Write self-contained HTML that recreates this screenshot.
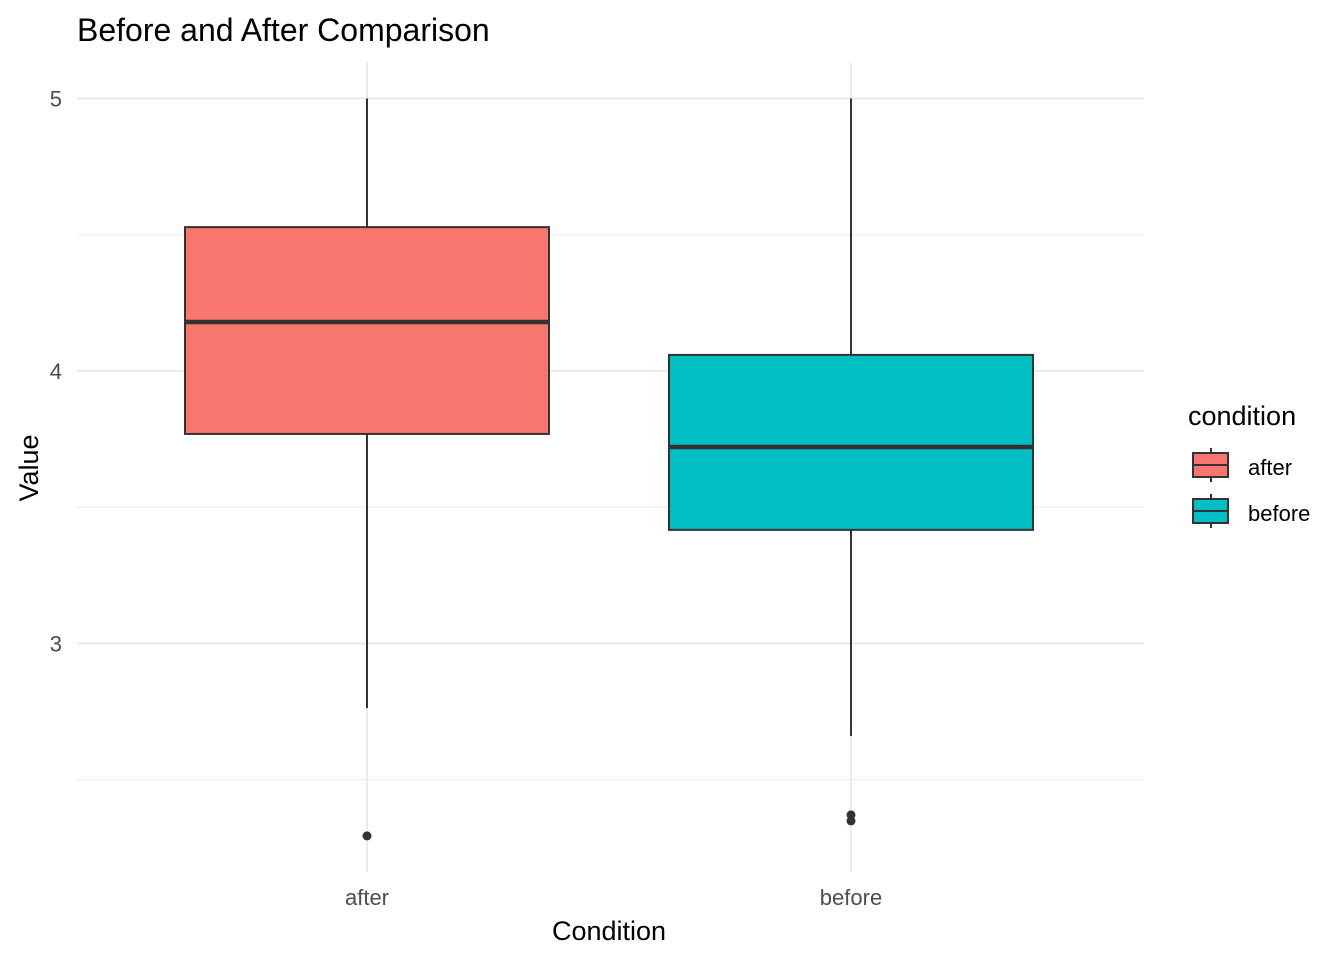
<!DOCTYPE html>
<html><head><meta charset="utf-8"><style>
body{margin:0;background:#fff;font-family:"Liberation Sans",Arial,sans-serif}
</style></head><body>
<svg id="chart" width="1344" height="960" xmlns="http://www.w3.org/2000/svg" font-family="Liberation Sans, Arial, sans-serif">
<text x="77" y="41" font-size="32" fill="#000">Before and After Comparison</text>
<g id="grid"></g>
<g id="boxes"></g>
<g id="axes"></g>
<text x="609" y="940" font-size="27" text-anchor="middle">Condition</text>
<text transform="translate(38,468) rotate(-90)" font-size="27" text-anchor="middle">Value</text>
<g id="legend">
<text x="1188" y="425" font-size="27">condition</text>
</g>
</svg>
<script>
const categories=["after","before"];
const q1=[3.769,3.417];
const median=[4.18,3.721];
const q3=[4.528,4.059];
const whiskLow=[2.763,2.661];
const whiskHigh=[5.0,5.0];
const outliers=[[2.294],[2.371,2.349]];
const colors=["#F8766D","#00BFC4"];
const yTicks=[3,4,5];
const yMinor=[2.5,3.5,4.5];
const NS="http://www.w3.org/2000/svg";
const px0=77,px1=1144,py0=62,py1=872;
function y(v){return 371-(v-4)*272.5;}
function x(i){return 367+i*484;}
const bw=364;
function mk(t,a,p){const e=document.createElementNS(NS,t);for(const k in a)e.setAttribute(k,a[k]);p.appendChild(e);return e;}
const grid=document.getElementById('grid');
yMinor.forEach(v=>{const l=mk('line',{x1:px0,x2:px1,y1:y(v),y2:y(v),stroke:'#ebebeb','stroke-width':1},grid);

});
yTicks.forEach(v=>{const l=mk('line',{x1:px0,x2:px1,y1:y(v),y2:y(v),stroke:'#e5e5e5','stroke-width':1.5},grid);

});
categories.forEach((c,i)=>{const l=mk('line',{x1:x(i),x2:x(i),y1:py0,y2:py1,stroke:'#e5e5e5','stroke-width':1.5},grid);

});
const axes=document.getElementById('axes');
yTicks.forEach(v=>{const t=mk('text',{x:62,y:y(v)+8,'font-size':22,fill:'#4d4d4d','text-anchor':'end'},axes);t.textContent=v;

});
categories.forEach((c,i)=>{const t=mk('text',{x:x(i),y:905,'font-size':22,fill:'#4d4d4d','text-anchor':'middle'},axes);t.textContent=c;

});
const boxes=document.getElementById('boxes');
categories.forEach((c,i)=>{
const g=mk('g',{},boxes);


mk('line',{x1:x(i),x2:x(i),y1:y(whiskHigh[i]),y2:y(q3[i]),stroke:'#333','stroke-width':2},g);
mk('line',{x1:x(i),x2:x(i),y1:y(q1[i]),y2:y(whiskLow[i]),stroke:'#333','stroke-width':2},g);
mk('rect',{x:x(i)-bw/2,y:y(q3[i]),width:bw,height:y(q1[i])-y(q3[i]),fill:colors[i],stroke:'#333','stroke-width':2},g);
mk('line',{x1:x(i)-bw/2,x2:x(i)+bw/2,y1:y(median[i]),y2:y(median[i]),stroke:'#333','stroke-width':4.5},g);
outliers[i].forEach(o=>{const p=mk('circle',{cx:x(i),cy:y(o),r:4.5,fill:'#333'},g);

});
});
const lg=document.getElementById('legend');
categories.forEach((c,i)=>{
const g=mk('g',{},lg);


const cy=465+i*46;
mk('line',{x1:1211,x2:1211,y1:cy-17,y2:cy+17,stroke:'#333','stroke-width':2},g);
mk('rect',{x:1193,y:cy-12,width:35,height:24,fill:colors[i],stroke:'#333','stroke-width':2},g);
mk('line',{x1:1193,x2:1228,y1:cy,y2:cy,stroke:'#333','stroke-width':2},g);
const t=mk('text',{x:1248,y:cy+10,'font-size':22,fill:'#000'},g);t.textContent=c;
});
</script>
</body></html>
